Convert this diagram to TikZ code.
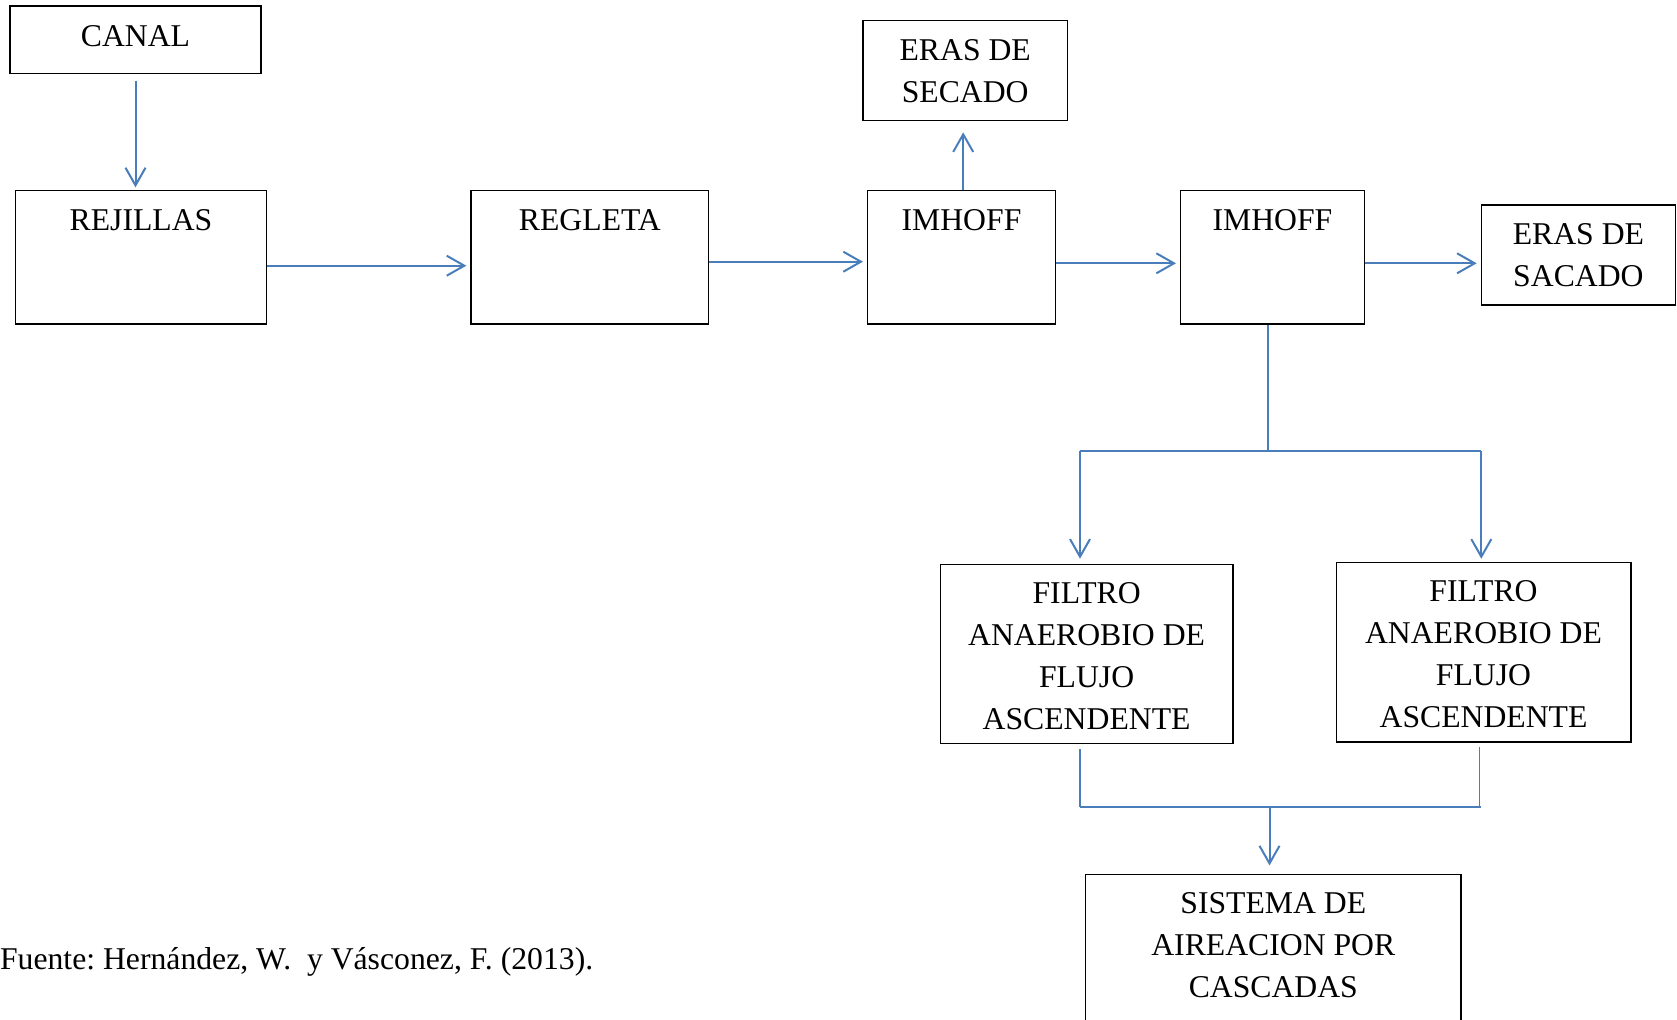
\documentclass[tikz,border=0pt]{standalone}
\usepackage{fontspec}
\setmainfont{Liberation Serif}
\usetikzlibrary{arrows.meta}
\definecolor{lnblue}{HTML}{4A7EBB}
\frenchspacing
\begin{document}
\begin{tikzpicture}[x=0.5pt,y=-0.5pt,
  every node/.style={font=\fontsize{15.85pt}{21pt}\selectfont},
  box/.style={draw=black, line width=0.6pt, inner sep=0pt, align=center},
  arr/.style={draw=lnblue, line width=1pt, -{Straight Barb[length=8.8pt,width=10pt,line width=1pt]}},
  ln/.style={draw=lnblue, line width=0.8pt},
  lbl/.style={anchor=base, inner sep=0pt}]
\useasboundingbox (0,0) rectangle (1677,1019);
\clip (0,0) rectangle (1677,1019);
\fill[white] (0,0) rectangle (1677,1019);

% boxes
\node[box, minimum width=125.5pt, minimum height=33.65pt] (canal) at (135.5,39.7) {};
\node[lbl] (canalt) at (135.5,46) {CANAL};
\node[box, minimum width=125.35pt, minimum height=66.65pt] (rej) at (141,257.3) {};
\node[lbl] (rejt) at (141,230) {REJILLAS};
\node[box, minimum width=118.95pt, minimum height=66.65pt] (reg) at (589.9,257.3) {};
\node[lbl] (regt) at (589.9,230) {REGLETA};
\node[box, minimum width=93.95pt, minimum height=66.65pt] (imh1) at (961.5,257.3) {};
\node[lbl] (imh1t) at (961.5,230) {IMHOFF};
\node[box, minimum width=91.8pt, minimum height=66.65pt] (imh2) at (1272.4,257.3) {};
\node[lbl] (imh2t) at (1272.4,230) {IMHOFF};
\node[box, minimum width=102.3pt, minimum height=50pt] (secado) at (965.2,70.7) {ERAS DE\\SECADO};
\node[box, minimum width=97.3pt, minimum height=50pt] (sacado) at (1578.4,255) {ERAS DE\\SACADO};
\node[box, minimum width=146.45pt, minimum height=89.5pt] (fil1) at (1086.6,653.8) {};
\node[align=center, inner sep=0pt] (fil1t) at (1086.6,656) {FILTRO\\ANAEROBIO DE\\FLUJO\\ASCENDENTE};
\node[box, minimum width=147.4pt, minimum height=89.85pt] (fil2) at (1483.5,652.2) {};
\node[align=center, inner sep=0pt] (fil2t) at (1483.5,654.5) {FILTRO\\ANAEROBIO DE\\FLUJO\\ASCENDENTE};
\node[box, minimum width=187.7pt, minimum height=82.65pt] (sis) at (1273.3,957.4) {};
\node[align=center, inner sep=0pt] (sist) at (1273.3,945) {SISTEMA DE\\AIREACION POR\\CASCADAS};

\node[anchor=base east, inner sep=0pt] (fuente) at (593.6,969) {Fuente: Hernández, W.\ \ y Vásconez, F. (2013).};

% connectors
\draw[arr, shorten <=3.35pt, shorten >=1.35pt] (canal.south) -- (canal.south |- rej.north);
\draw[arr, shorten >=2pt] ([yshift=-4.2pt]rej.east) -- ([yshift=-4.2pt]rej.east -| reg.west);
\draw[arr, shorten >=2pt] ([yshift=-2.2pt]reg.east) -- ([yshift=-2.2pt]reg.east -| imh1.west);
\draw[arr, shorten >=2pt] ([yshift=-3pt]imh1.east) -- ([yshift=-3pt]imh1.east -| imh2.west);
\draw[arr, shorten >=1.9pt] ([yshift=-3pt]imh2.east) -- ([yshift=-3pt]imh2.east -| sacado.west);
\draw[arr, shorten >=5.5pt] ([xshift=0.85pt]imh1.north) -- ([xshift=0.85pt]imh1.north |- secado.south);

\coordinate (j1) at (1267.8,451);
\coordinate (jl) at (1080,451);
\coordinate (jr) at (1481.3,451);
\coordinate (kl) at (1080,806.7);
\coordinate (kr) at (1479.3,806.7);
\coordinate (km) at (1269.5,806.7);

\draw[ln] (imh2.south -| j1) -- (j1);
\draw[ln] (jl) -- (jr);
\draw[arr, shorten >=2.5pt] (jl) -- (jl |- fil1.north);
\draw[arr, shorten >=1.5pt] (jr) -- (jr |- fil2.north);
\draw[ln, shorten <=2.5pt] (fil1.south -| kl) -- (kl);
\draw[ln, shorten <=2.35pt] (fil2.south -| kr) -- (kr);
\draw[ln, line width=1.1pt] (kl) -- ([xshift=0.9pt]kr);
\draw[arr, shorten >=4.35pt] (km) -- (km |- sis.north);
\end{tikzpicture}
\end{document}
